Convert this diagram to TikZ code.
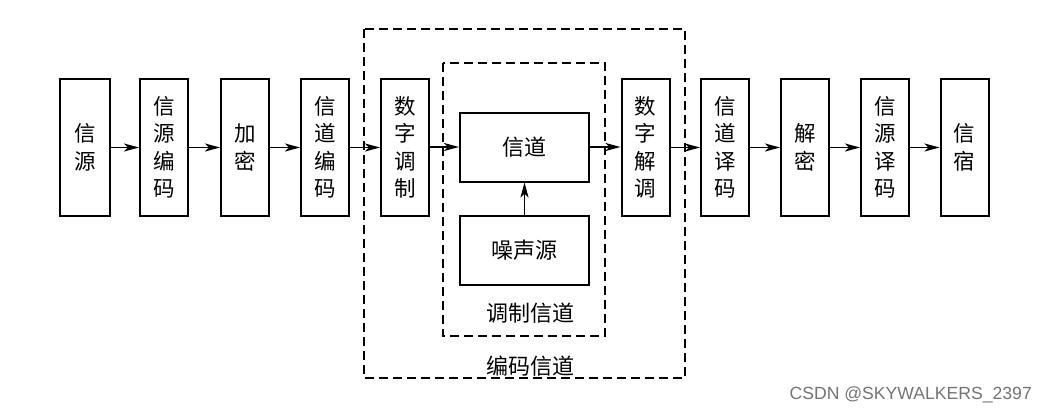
\documentclass[tikz,border=0pt]{standalone}
\usepackage{fontspec}
\newfontfamily\cjk{Noto Sans CJK SC}
\newfontfamily\wm{Liberation Sans}
\usetikzlibrary{arrows.meta}
\begin{document}
\begin{tikzpicture}[x=1pt,y=-1pt,
  blk/.style={draw, line width=2pt, inner sep=0pt, minimum width=48pt, minimum height=137pt,
    align=center, font=\cjk\fontsize{21.5}{27.5}\selectfont},
  hblk/.style={draw, line width=2pt, inner sep=0pt, minimum width=129pt, minimum height=69pt,
    font=\cjk\fontsize{22}{25}\selectfont},
  frame/.style={draw, line width=1.5pt, dash pattern=on 9pt off 5pt},
  lbl/.style={font=\cjk\fontsize{22}{25}\selectfont, inner sep=0pt},
  arr/.style={line width=1.3pt, -{Stealth[length=15pt,width=8pt,inset=4pt]}}]
\useasboundingbox (0,0) rectangle (1049,412);
% frames
\draw[frame] (364,29) rectangle (685,378);
\draw[frame] (443,63) rectangle (605,336);
\node[lbl] (ml) at (530,313) {调制信道};
\node[lbl] (cl) at (530,366) {编码信道};
% boxes
\node[blk, minimum width=50pt] (b1) at (85,147.5) {信\\源};
\node[blk] (b2) at (164,147.5) {信\\源\\编\\码};
\node[blk] (b3) at (245,147.5) {加\\密};
\node[blk] (b4) at (325,147.5) {信\\道\\编\\码};
\node[blk] (b5) at (405,147.5) {数\\字\\调\\制};
\node[hblk] (ch) at (524.5,147) {信道};
\node[hblk] (ns) at (524.5,250.5) {噪声源};
\node[blk] (b6) at (645.5,147.5) {数\\字\\解\\调};
\node[blk] (b7) at (725,147.5) {信\\道\\译\\码};
\node[blk] (b8) at (805,147.5) {解\\密};
\node[blk] (b9) at (885,147.5) {信\\源\\译\\码};
\node[blk] (b10) at (964.5,147.5) {信\\宿};
% arrows
\draw[arr] (b1) -- (b2);
\draw[arr] (b2) -- (b3);
\draw[arr] (b3) -- (b4);
\draw[arr] (b4) -- (b5);
\draw[arr] (b5.east |- ch.west) -- (ch.west);
\draw[arr] (ch.east) -- (b6.west |- ch.east);
\draw[arr] (b6) -- (b7);
\draw[arr] (b7) -- (b8);
\draw[arr] (b8) -- (b9);
\draw[arr] (b9) -- (b10);
\draw[arr] (ns.north) -- (ch.south);
% watermark
\node[font=\wm\fontsize{17.6}{20}\selectfont, text=black!55, anchor=base east, inner sep=0pt] (wmk) at (1032,399) {CSDN @SKYWALKERS\_2397};
\end{tikzpicture}
\end{document}
